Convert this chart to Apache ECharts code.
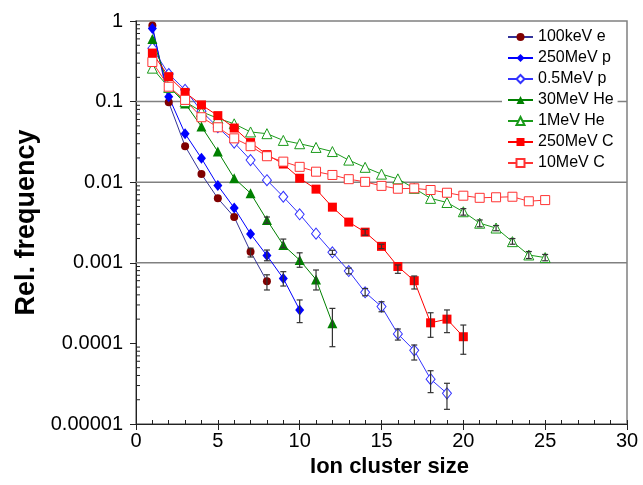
<!DOCTYPE html>
<html><head><meta charset="utf-8">
<script src="https://cdn.jsdelivr.net/npm/echarts@6/dist/echarts.min.js"></script>
<style>html,body{margin:0;padding:0;background:#fff}#c{width:643px;height:485px}</style>
</head><body><div id="c"></div>
<script>
// ---- data ----
const clusterSizes = [1,2,3,4,5,6,7,8,9,10,11,12,13,14,15,16,17,18,19,20,21,22,23,24,25];
const seriesNames = ['100keV e','250MeV p','0.5MeV p','30MeV He','1MeV He','250MeV C','10MeV C'];
const xTickLabels = ['0','5','10','15','20','25','30'];
const yTickLabels = ['0.00001','0.0001','0.001','0.01','0.1','1'];

const e100keV  = [0.88, 0.098, 0.028, 0.0126, 0.0063, 0.0037, 0.00137, 0.00059];
const p250MeV  = [0.81, 0.115, 0.040, 0.0198, 0.0091, 0.0048, 0.00228, 0.00123, 0.00064, 0.00026];
const p05MeV   = [0.46, 0.22, 0.14, 0.076, 0.048, 0.031, 0.0188, 0.0106, 0.0066, 0.0040, 0.0023, 0.00135, 0.00079, 0.00043, 0.000286, 0.000131, 0.000082, 0.000036, 0.000024];
const he30MeV  = [0.60, 0.155, 0.095, 0.049, 0.024, 0.0112, 0.0073, 0.0034, 0.00166, 0.00108, 0.00062, 0.000178];
const he1MeV   = [0.26, 0.15, 0.10, 0.075, 0.062, 0.053, 0.042, 0.040, 0.033, 0.030, 0.027, 0.024, 0.0188, 0.0153, 0.0126, 0.011, 0.0084, 0.0063, 0.0056, 0.0043, 0.0031, 0.0027, 0.00183, 0.00125, 0.00116];
const c250MeV  = [0.40, 0.204, 0.13, 0.091, 0.067, 0.047, 0.031, 0.022, 0.0168, 0.0112, 0.0082, 0.0049, 0.0032, 0.0024, 0.0016, 0.00090, 0.00060, 0.00018, 0.00020, 0.000121];
const c10MeV   = [0.31, 0.153, 0.105, 0.064, 0.048, 0.035, 0.028, 0.021, 0.018, 0.0155, 0.0135, 0.0123, 0.0109, 0.0101, 0.0090, 0.0083, 0.0084, 0.0080, 0.0074, 0.0068, 0.0064, 0.0065, 0.0066, 0.0058, 0.0060];

// error bars: [cluster size, low, high]
const errE100keV = [[7,0.00118,0.00152],[8,0.00046,0.00071]];
const errP250MeV = [[8,0.00106,0.00144],[9,0.000515,0.000776],[10,0.000181,0.000346]];
const errP05MeV  = [[12,0.00127,0.00143],[13,0.00073,0.00086],[14,0.00039,0.00048],[15,0.000247,0.000329],[16,0.00011,0.000151],[17,0.0000622,0.0000955],[18,0.0000245,0.0000458],[19,0.0000152,0.000032]];
const errHe30MeV = [[8,0.0031,0.0037],[9,0.00154,0.00197],[10,0.00088,0.00133],[11,0.00046,0.000814],[12,0.000091,0.000272]];
const errHe1MeV  = [[20,0.0039,0.0047],[21,0.0028,0.0034],[22,0.0025,0.0029],[23,0.0017,0.0020],[24,0.00113,0.00138],[25,0.00106,0.00127]];
const errC250MeV = [[14,0.0022,0.0026],[15,0.0015,0.0017],[16,0.00074,0.00094],[17,0.000473,0.000686],[18,0.000119,0.00024],[19,0.000136,0.00026],[20,0.0000733,0.000169]];
const gridValues = [0.1, 0.01, 0.001];

// ---- chart ----
const FONT = '"Liberation Sans", Arial, sans-serif';
const pairs = arr => arr.map((v, i) => [clusterSizes[i], v]);
const yMinor = [];
for (let e = -5; e < 0; e++) for (let m = 2; m <= 9; m++) yMinor.push(m * Math.pow(10, e));

function lineSeries(name, data, lineColor, markColor, symbol, size, open) {
  return {
    name, type: 'line', data: pairs(data), xAxisIndex: 0,
    symbol, symbolSize: size, showSymbol: true,
    lineStyle: { color: lineColor, width: 1 },
    itemStyle: open ? { color: '#fff', borderColor: markColor, borderWidth: 1 } : { color: markColor, borderWidth: 0 },
    emphasis: { disabled: true }, z: 2, animation: false
  };
}
function errSeries(data) {
  return {
    type: 'custom', data, xAxisIndex: 0, z: 4, silent: true, animation: false,
    encode: { x: 0, y: [1, 2] },
    renderItem: (params, api) => {
      const x = api.value(0);
      const a = api.coord([x, api.value(1)]);
      const b = api.coord([x, api.value(2)]);
      const st = { stroke: '#333', lineWidth: 1.2 };
      return { type: 'group', children: [
        { type: 'line', shape: { x1: a[0], y1: a[1], x2: b[0], y2: b[1] }, style: st },
        { type: 'line', shape: { x1: a[0]-3, y1: a[1], x2: a[0]+3, y2: a[1] }, style: st },
        { type: 'line', shape: { x1: b[0]-3, y1: b[1], x2: b[0]+3, y2: b[1] }, style: st }
      ]};
    }
  };
}

const chart = echarts.init(document.getElementById('c'), null, { renderer: 'canvas' });
chart.setOption({
  animation: false,
  backgroundColor: '#fff',
  textStyle: { fontFamily: FONT },
  grid: { left: 136, right: 16, top: 21, bottom: 61, show: true, borderColor: '#808080', borderWidth: 1.5, backgroundColor: 'transparent' },
  legend: {
    data: seriesNames, orient: 'vertical', left: 502, top: 25,
    itemWidth: 25, itemHeight: 10, itemGap: 5,
    backgroundColor: '#fff', padding: [4, 4, 4, 5],
    textStyle: { fontSize: 16, color: '#000', fontFamily: FONT }
  },
  xAxis: [{
    type: 'value', min: 0, max: 30, interval: 5, position: 'bottom',
    name: 'Ion cluster size', nameLocation: 'middle', nameGap: 32,
    nameTextStyle: { fontSize: 22, fontWeight: 'bold', color: '#000', fontFamily: FONT, padding: [0, 0, 0, 16] },
    axisLine: { show: true, lineStyle: { color: '#222', width: 1 } },
    axisTick: { show: true, inside: false, length: 6, lineStyle: { color: '#222' } },
    axisLabel: { fontSize: 20, color: '#000', margin: 7, formatter: v => xTickLabels[Math.round(v / 5)] },
    splitLine: { show: false }
  }, {
    type: 'value', min: 0, max: 30, interval: 1, position: 'bottom', offset: 0,
    axisLine: { show: false },
    axisTick: { show: true, inside: true, length: 4, lineStyle: { color: '#222' } },
    axisLabel: { show: false }, splitLine: { show: false }
  }],
  yAxis: {
    type: 'log', logBase: 10, min: 0.00001, max: 1,
    name: 'Rel. frequency', nameLocation: 'middle', nameGap: 90,
    nameTextStyle: { fontSize: 27, fontWeight: 'bold', color: '#000', fontFamily: FONT },
    axisLine: { show: true, lineStyle: { color: '#222', width: 1 } },
    axisTick: { show: true, inside: false, length: 6, lineStyle: { color: '#222' } },
    axisLabel: { fontSize: 20, color: '#000', margin: 13,
      formatter: v => yTickLabels[Math.round(Math.log10(v)) + 5] },
    splitLine: { show: false }
  },
  series: [
    { type: 'custom', data: gridValues.map(v => [v]), xAxisIndex: 0, z: 1, silent: true,
      encode: { y: 0 },
      renderItem: (params, api) => {
        const a = api.coord([0, api.value(0)]);
        const b = api.coord([30, api.value(0)]);
        return { type: 'line', shape: { x1: a[0], y1: a[1], x2: b[0], y2: b[1] }, style: { stroke: '#808080', lineWidth: 1.5 } };
      } },
    { type: 'custom', data: yMinor.map(v => [0, v]), xAxisIndex: 0, z: 3, silent: true, clip: false,
      renderItem: (params, api) => {
        const p = api.coord([0, api.value(1)]);
        return { type: 'line', shape: { x1: p[0], y1: p[1], x2: p[0] + 4, y2: p[1] }, style: { stroke: '#222', lineWidth: 1 } };
      } },
    lineSeries('100keV e', e100keV, '#333399', '#800000', 'circle', 8, false),
    lineSeries('250MeV p', p250MeV, '#0000ff', '#0000ff', 'diamond', [9, 11], false),
    lineSeries('0.5MeV p', p05MeV, '#3333ff', '#3333ff', 'diamond', [9, 11], true),
    lineSeries('30MeV He', he30MeV, '#008000', '#008000', 'triangle', 10, false),
    lineSeries('1MeV He', he1MeV, '#1a9a1a', '#1a9a1a', 'triangle', 10, true),
    lineSeries('250MeV C', c250MeV, '#ff0000', '#ff0000', 'rect', 9, false),
    lineSeries('10MeV C', c10MeV, '#ff3333', '#ff3333', 'rect', 9, true),
    errSeries(errE100keV), errSeries(errP250MeV), errSeries(errP05MeV),
    errSeries(errHe30MeV), errSeries(errHe1MeV), errSeries(errC250MeV)
  ]
});
</script></body></html>
